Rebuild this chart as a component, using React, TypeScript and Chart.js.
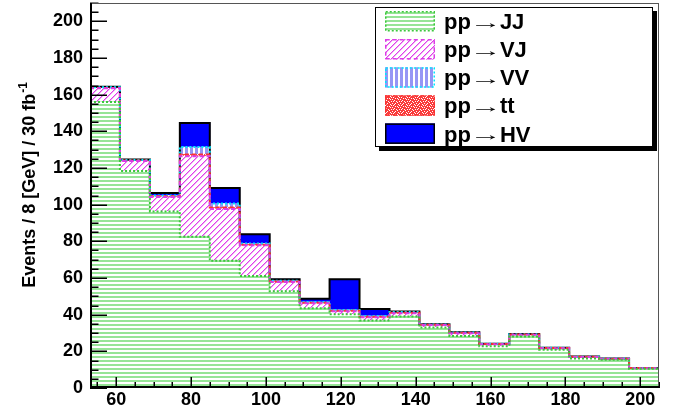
import React, { useEffect, useRef } from 'react';
import { Chart, registerables } from 'chart.js';

Chart.register(...registerables);

// ---- data ----
const binCenters = [57, 65, 73, 81, 89, 97, 105, 113, 121, 129, 137, 145, 153, 161, 169, 177, 185, 193, 201];
const binEdges = [53, 61, 69, 77, 85, 93, 101, 109, 117, 125, 133, 141, 149, 157, 165, 173, 181, 189, 197, 205];
const jjValues = [156, 118.4, 96.3, 82.5, 69.4, 61.1, 52.8, 43.5, 40.2, 36.8, 39.0, 33.0, 28.4, 22.8, 28.1, 20.8, 16.1, 15.4, 10.5];
const vjValues = [7.5, 5.4, 7.9, 43.9, 28.3, 16.7, 5.0, 2.7, 1.7, 1.8, 1.8, 1.3, 1.5, 1.0, 1.0, 0.9, 0.8, 0.5, 0.3];
const ttValues = [0.2, 0.3, 0.4, 1.0, 0.7, 0.4, 0.3, 0.3, 0.3, 0.3, 0.3, 0.2, 0.2, 0.15, 0.1, 0.1, 0.1, 0.1, 0.05];
const vvValues = [0.3, 0.3, 0.4, 4.0, 2.2, 0.6, 0.4, 0.4, 0.4, 0.4, 0.3, 0.2, 0.2, 0.15, 0.1, 0.1, 0.1, 0.05, 0.05];
const hvValues = [0.3, 0.3, 1.4, 13.1, 8.5, 5.0, 0.8, 1.8, 16.7, 3.8, 0.3, 0.1, 0.1, 0.1, 0.1, 0.1, 0.1, 0.05, 0.05];
const xTickValues = [60, 80, 100, 120, 140, 160, 180, 200];
const yTickValues = [0, 20, 40, 60, 80, 100, 120, 140, 160, 180, 200];
const legendProcesses = ['JJ', 'VJ', 'VV', 'tt', 'HV'];
const yTitleMain = 'Events / 8 [GeV] / 30 fb';
const yTitleSup = '-1';

const X_MIN = 53;
const X_MAX = 205;
const Y_MIN = 0;
const Y_MAX = 210;
const MINOR_STEP = 5;
const FONT = "'Liberation Sans', Arial, Helvetica, sans-serif";

const COLORS = {
  jjFill: 'rgb(150,228,150)',
  jjLine: 'rgb(60,200,60)',
  vjFill: 'rgb(225,60,235)',
  vjFillSoft: 'rgb(240,170,245)',
  vjLine: 'rgb(220,60,230)',
  ttFill: 'rgb(250,60,60)',
  ttLine: 'rgb(250,50,50)',
  vvFill: 'rgb(150,150,245)',
  vvLine: 'rgb(0,230,255)',
  hvFill: 'rgb(0,0,255)',
  hvLine: 'rgb(0,0,0)',
};

function tile(w: number, h: number, draw: (c: CanvasRenderingContext2D) => void): CanvasPattern {
  const cv = document.createElement('canvas');
  cv.width = w;
  cv.height = h;
  const c = cv.getContext('2d') as CanvasRenderingContext2D;
  c.fillStyle = '#ffffff';
  c.fillRect(0, 0, w, h);
  draw(c);
  const main = document.createElement('canvas').getContext('2d') as CanvasRenderingContext2D;
  return main.createPattern(cv, 'repeat') as CanvasPattern;
}

function makePatterns() {
  const jj = tile(4, 4, (c) => {
    c.fillStyle = COLORS.jjFill;
    c.fillRect(0, 0, 4, 2);
  });
  const vj = tile(6, 6, (c) => {
    for (let i = 0; i < 6; i++) {
      c.fillStyle = COLORS.vjFill;
      c.fillRect(i, 5 - i, 1, 1);
      c.fillStyle = COLORS.vjFillSoft;
      c.fillRect((i + 1) % 6, 5 - i, 1, 1);
    }
  });
  const vv = tile(5, 5, (c) => {
    c.fillStyle = COLORS.vvFill;
    c.fillRect(0, 0, 3, 5);
  });
  const ttMask = [
    '11011101',
    '10111110',
    '11101011',
    '01111101',
    '11011111',
    '10110110',
    '11111011',
    '01101111',
  ];
  const tt = tile(8, 8, (c) => {
    c.fillStyle = COLORS.ttFill;
    for (let r = 0; r < 8; r++)
      for (let k = 0; k < 8; k++) if (ttMask[r][k] === '1') c.fillRect(k, r, 1, 1);
  });
  return { jj, vj, vv, tt };
}

function cumulative(parts: number[][]): number[][] {
  const out: number[][] = [];
  let run = binCenters.map(() => 0);
  for (const p of parts) {
    run = run.map((v, i) => v + p[i]);
    out.push(run.slice());
  }
  return out;
}

export default function App() {
  const ref = useRef<HTMLCanvasElement | null>(null);

  useEffect(() => {
    const canvas = ref.current;
    if (!canvas) return;
    const pats = makePatterns();
    const [c1, c2, c3, c4, c5] = cumulative([jjValues, vjValues, ttValues, vvValues, hvValues]);
    const zero = binCenters.map(() => 0);

    const barSet = (label: string, lo: number[], hi: number[], bg: any) => ({
      type: 'bar' as const,
      label,
      data: binCenters.map((x, i) => ({ x, y: [lo[i], hi[i]] })),
      backgroundColor: bg,
      borderWidth: 0,
      barPercentage: 1,
      categoryPercentage: 1,
      grouped: false,
      inflateAmount: 0.4,
      order: 10,
    });
    // step outline through the bin edges: value of bin i spans [edge_i, edge_i+1]
    const stepSet = (label: string, cum: number[], color: string, width: number, dash: number[], order: number) => ({
      type: 'line' as const,
      label,
      data: binEdges.map((x, i) => ({ x, y: cum[Math.max(0, i - 1)] })),
      borderColor: color,
      borderWidth: width,
      borderDash: dash,
      pointRadius: 0,
      fill: false,
      stepped: 'after' as const,
      tension: 0,
      order,
    });

    const decor = {
      id: 'rootDecor',
      afterDatasetsDraw(chart: any) {
        const { ctx, chartArea: a, scales } = chart;
        const xs = scales.x;
        const ys = scales.y;
        ctx.save();
        ctx.strokeStyle = '#000';
        ctx.lineWidth = 1.5;
        for (let v = Y_MIN; v <= Y_MAX + 1e-9; v += MINOR_STEP) {
          const major = yTickValues.includes(v);
          const py = Math.round(ys.getPixelForValue(v)) + 0.25;
          ctx.beginPath();
          ctx.moveTo(a.left, py);
          ctx.lineTo(a.left + (major ? 17 : 8.5), py);
          ctx.stroke();
        }
        for (let v = Math.ceil(X_MIN / MINOR_STEP) * MINOR_STEP; v <= X_MAX; v += MINOR_STEP) {
          const major = xTickValues.includes(v);
          const px = Math.round(xs.getPixelForValue(v)) + 0.25;
          ctx.beginPath();
          ctx.moveTo(px, a.bottom);
          ctx.lineTo(px, a.bottom - (major ? 11 : 6));
          ctx.stroke();
        }
        ctx.lineWidth = 1;
        ctx.strokeStyle = '#555';
        ctx.strokeRect(a.left + 0.5, a.top + 0.5, a.right - a.left - 1, a.bottom - a.top - 1);
        ctx.strokeStyle = '#000';
        ctx.lineWidth = 2;
        ctx.beginPath();
        ctx.moveTo(a.left + 1, a.top);
        ctx.lineTo(a.left + 1, a.bottom - 1);
        ctx.lineTo(a.right, a.bottom - 1);
        ctx.stroke();
        ctx.restore();
      },
      afterDraw(chart: any) {
        const { ctx } = chart;
        ctx.save();
        // y axis title with superscript
        ctx.fillStyle = '#000';
        ctx.font = `bold 18px ${FONT}`;
        const wMain = ctx.measureText(yTitleMain).width;
        ctx.font = `bold 12px ${FONT}`;
        const wSup = ctx.measureText(yTitleSup).width;
        const yEnd = 82;
        ctx.save();
        ctx.translate(34.5, yEnd + wMain + wSup + 1);
        ctx.rotate(-Math.PI / 2);
        ctx.textAlign = 'left';
        ctx.textBaseline = 'alphabetic';
        ctx.font = `bold 18px ${FONT}`;
        ctx.fillText(yTitleMain, 0, 0);
        ctx.font = `bold 12px ${FONT}`;
        ctx.fillText(yTitleSup, wMain + 1, -8);
        ctx.restore();

        // legend box with shadow
        const L = 375, T = 7, R = 653, B = 147;
        ctx.fillStyle = '#000';
        ctx.fillRect(L + 4, T + 4, R - L, B - T);
        ctx.fillStyle = '#fff';
        ctx.fillRect(L, T, R - L, B - T);
        ctx.strokeStyle = '#000';
        ctx.lineWidth = 1;
        ctx.strokeRect(L + 0.5, T + 0.5, R - L - 1, B - T - 1);

        const fills = [pats.jj, pats.vj, pats.vv, pats.tt, COLORS.hvFill];
        const lines = [COLORS.jjLine, COLORS.vjLine, COLORS.vvLine, COLORS.ttLine, COLORS.hvLine];
        const dashes = [[2, 2], [4, 3], [2, 2], [4, 3], []];
        legendProcesses.forEach((p, i) => {
          const sy = 11 + i * 28.1;
          ctx.fillStyle = fills[i];
          ctx.fillRect(385, sy, 50, 20.5);
          ctx.setLineDash(dashes[i]);
          ctx.strokeStyle = lines[i];
          ctx.lineWidth = 1.5;
          ctx.strokeRect(385.75, sy + 0.75, 48.5, 19);
          ctx.setLineDash([]);
          const base = sy + 18.1;
          ctx.fillStyle = '#000';
          ctx.textAlign = 'left';
          ctx.textBaseline = 'alphabetic';
          ctx.font = `bold 22px ${FONT}`;
          ctx.fillText('pp', 444, base);
          let x = 444 + ctx.measureText('pp').width + 5;
          // thin arrow, stretched so its ink is ~20px long
          ctx.font = `16px ${FONT}`;
          const m = ctx.measureText('\u2192');
          const inkL = m.actualBoundingBoxLeft || 0;
          const inkW = Math.max(1, (m.actualBoundingBoxRight || m.width) + inkL);
          ctx.save();
          ctx.translate(x, base - 1.5);
          ctx.scale(20 / inkW, 1);
          ctx.fillText('\u2192', inkL, 0);
          ctx.restore();
          x += 20 + 4;
          ctx.font = `bold 22px ${FONT}`;
          ctx.fillText(p, x, base);
        });
        ctx.restore();
      },
    };

    const chart = new Chart(canvas, {
      type: 'bar',
      data: {
        datasets: [
          barSet('pp → JJ', zero, c1, pats.jj),
          barSet('pp → VJ', c1, c2, pats.vj),
          barSet('pp → tt', c2, c3, pats.tt),
          barSet('pp → VV', c3, c4, pats.vv),
          barSet('pp → HV', c4, c5, COLORS.hvFill),
          stepSet('HV outline', c5, COLORS.hvLine, 2, [], 5),
          stepSet('VV outline', c4, COLORS.vvLine, 2, [2, 2], 4),
          stepSet('tt outline', c3, COLORS.ttLine, 2, [4, 3], 3),
          stepSet('VJ outline', c2, COLORS.vjLine, 2, [4, 3], 2),
          stepSet('JJ outline', c1, COLORS.jjLine, 2, [2, 2], 1),
        ] as any,
      },
      options: {
        animation: false,
        responsive: false,
        devicePixelRatio: 1,
        layout: { padding: { top: 3, right: 18, left: 0, bottom: 0 } },
        plugins: { legend: { display: false }, tooltip: { enabled: false } },
        scales: {
          x: {
            type: 'linear',
            min: X_MIN,
            max: X_MAX,
            offset: false,
            grid: { display: false, drawTicks: false },
            border: { display: false },
            ticks: { color: '#000', font: { family: FONT, size: 18, weight: 'bold' }, padding: 1, maxRotation: 0 },
            afterBuildTicks: (s: any) => {
              s.ticks = xTickValues.map((v) => ({ value: v }));
            },
            afterFit: (s: any) => {
              s.height = 29;
              s.paddingLeft = 0;
              s.paddingRight = 0;
            },
          },
          y: {
            type: 'linear',
            min: Y_MIN,
            max: Y_MAX,
            grid: { display: false, drawTicks: false },
            border: { display: false },
            ticks: { color: '#000', font: { family: FONT, size: 18, weight: 'bold' }, padding: 7 },
            afterBuildTicks: (s: any) => {
              s.ticks = yTickValues.map((v) => ({ value: v }));
            },
            afterFit: (s: any) => {
              s.width = 90;
              s.paddingTop = 0;
              s.paddingBottom = 0;
            },
          },
        },
      } as any,
      plugins: [decor],
    });
    return () => chart.destroy();
  }, []);

  return (
    <div style={{ position: 'fixed', left: 0, top: 0, width: 677, height: 417, background: '#fff' }}>
      <canvas ref={ref} width={677} height={417} style={{ display: 'block' }} />
    </div>
  );
}
